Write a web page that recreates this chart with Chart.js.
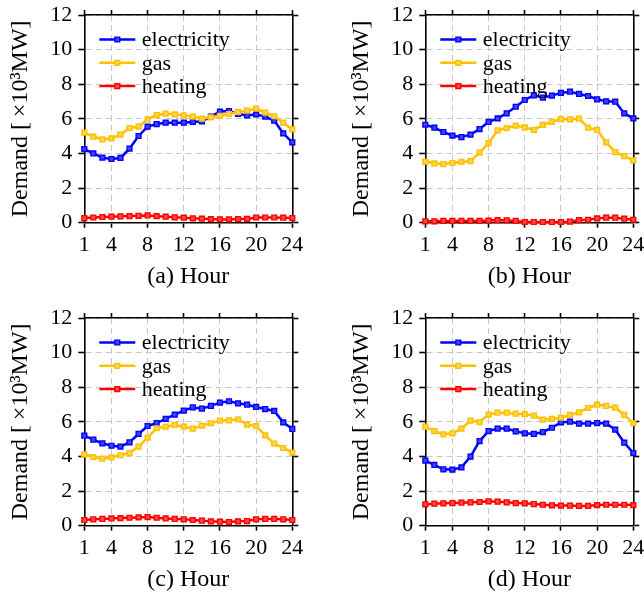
<!DOCTYPE html>
<html>
<head>
<meta charset="utf-8">
<script src="https://cdn.jsdelivr.net/npm/chart.js@4/dist/chart.umd.min.js"></script>
<style>
  html, body { margin:0; padding:0; background:#ffffff; }
  body { width:644px; height:594px; position:relative; overflow:hidden; }
  .panel { position:absolute; width:303px; height:291px; }
</style>
</head>
<body>
<div class="panel" style="left:0px;top:0px;"><canvas id="cA" width="303" height="291"></canvas></div>
<div class="panel" style="left:341px;top:0px;"><canvas id="cB" width="303" height="291"></canvas></div>
<div class="panel" style="left:0px;top:303px;"><canvas id="cC" width="303" height="291"></canvas></div>
<div class="panel" style="left:341px;top:303px;"><canvas id="cD" width="303" height="291"></canvas></div>
<script>
// ---- data ----
const hours = [1,2,3,4,5,6,7,8,9,10,11,12,13,14,15,16,17,18,19,20,21,22,23,24];
const xTickValues = [1,4,8,12,16,20,24];
const seriesNames = ["electricity","gas","heating"];
const panelTitles = ["(a) Hour","(b) Hour","(c) Hour","(d) Hour"];
const yAxisTitle = "Demand [\u2009×10³MW]";

const elecA = [4.25,4.00,3.76,3.68,3.74,4.28,5.01,5.55,5.70,5.78,5.78,5.78,5.82,5.86,6.13,6.42,6.45,6.28,6.20,6.26,6.13,5.90,5.16,4.64];
const gasA  = [5.20,4.97,4.82,4.87,5.09,5.47,5.55,5.97,6.22,6.30,6.26,6.20,6.13,6.01,6.09,6.18,6.28,6.40,6.47,6.59,6.36,6.15,5.78,5.39];
const heatA = [0.27,0.30,0.33,0.35,0.37,0.38,0.40,0.42,0.38,0.35,0.31,0.29,0.25,0.23,0.21,0.19,0.19,0.21,0.22,0.30,0.30,0.30,0.29,0.27];

const elecB = [5.66,5.49,5.24,5.03,4.95,5.09,5.41,5.82,6.03,6.32,6.70,7.09,7.36,7.23,7.34,7.50,7.57,7.44,7.32,7.13,7.01,6.99,6.32,6.03];
const gasB  = [3.53,3.43,3.39,3.45,3.51,3.56,4.05,4.60,5.34,5.47,5.61,5.51,5.36,5.65,5.82,5.99,5.97,6.01,5.49,5.36,4.64,4.08,3.85,3.60];
const heatB = [0.08,0.08,0.10,0.10,0.10,0.10,0.10,0.12,0.15,0.13,0.10,0.04,0.04,0.04,0.04,0.04,0.06,0.15,0.17,0.25,0.29,0.29,0.23,0.17];

const elecC = [5.20,4.97,4.76,4.62,4.57,4.82,5.30,5.76,5.93,6.17,6.42,6.65,6.84,6.76,6.92,7.11,7.19,7.07,6.99,6.86,6.74,6.63,5.97,5.59];
const gasC  = [4.12,3.97,3.87,3.95,4.07,4.20,4.57,5.09,5.63,5.72,5.82,5.72,5.61,5.78,5.92,6.07,6.09,6.15,5.84,5.76,5.22,4.74,4.49,4.22];
const heatC = [0.33,0.37,0.39,0.42,0.44,0.46,0.48,0.50,0.46,0.42,0.39,0.37,0.33,0.29,0.25,0.23,0.21,0.25,0.27,0.37,0.39,0.39,0.37,0.33];

const elecD = [3.76,3.51,3.26,3.24,3.37,3.99,4.89,5.47,5.61,5.61,5.45,5.34,5.30,5.41,5.66,5.97,6.01,5.90,5.90,5.93,5.90,5.55,4.80,4.20];
const gasD  = [5.72,5.47,5.28,5.34,5.61,6.07,5.99,6.42,6.53,6.53,6.47,6.45,6.36,6.13,6.17,6.24,6.40,6.55,6.80,6.99,6.92,6.82,6.40,5.93];
const heatD = [1.23,1.27,1.29,1.31,1.33,1.35,1.37,1.41,1.39,1.35,1.31,1.29,1.25,1.21,1.18,1.16,1.16,1.14,1.14,1.19,1.21,1.21,1.21,1.19];

// ---- styling ----
const lineColors = ["#0000ff","#ffc000","#ff0000"];
const fillColors = ["#4040ff","#ffd64a","#ff4848"];
const FONT = '"Liberation Serif", "Times New Roman", serif';
const AXIS_W = 1.6;
const GRID_COLOR = "#c8c8c8";

const innerLegend = {
  id: 'innerLegend',
  afterDatasetsDraw(chart) {
    const {ctx, chartArea} = chart;
    chart.data.datasets.forEach((ds, i) => {
      const y = chartArea.top + 24.5 + i * 23.3;
      const x0 = chartArea.left + 15, x1 = chartArea.left + 51;
      ctx.save();
      ctx.strokeStyle = ds.borderColor;
      ctx.lineWidth = ds.borderWidth;
      ctx.beginPath(); ctx.moveTo(x0, y); ctx.lineTo(x1, y); ctx.stroke();
      ctx.fillStyle = ds.pointBackgroundColor;
      ctx.strokeStyle = ds.pointBorderColor;
      ctx.lineWidth = ds.pointBorderWidth;
      Chart.helpers.drawPoint(ctx, {pointStyle: 'rect', radius: ds.pointRadius, borderWidth: ds.pointBorderWidth, rotation: 0}, (x0 + x1) / 2, y);
      ctx.fillStyle = '#000';
      ctx.font = '22px ' + FONT;
      ctx.textBaseline = 'middle';
      ctx.textAlign = 'left';
      ctx.fillText(ds.label, chartArea.left + 57.5, y + 1);
      ctx.restore();
    });
  }
};

function setXTicks(scale) { scale.ticks = xTickValues.map(v => ({value: v})); }

function makeChart(id, title, seriesList) {
  const datasets = seriesList.map((vals, i) => ({
    label: seriesNames[i],
    data: hours.map((h, k) => ({x: h, y: vals[k]})),
    xAxisID: 'x', yAxisID: 'y',
    borderColor: lineColors[i],
    borderWidth: 2.5,
    pointStyle: 'rect',
    pointRadius: 3.4,
    pointBorderWidth: 1.4,
    pointBorderColor: lineColors[i],
    pointBackgroundColor: fillColors[i],
    tension: 0,
    clip: false,
    order: 3 - i
  }));
  return new Chart(document.getElementById(id), {
    type: 'line',
    data: {datasets},
    options: {
      responsive: false, animation: false, devicePixelRatio: 1,
      layout: {padding: {left: 0, right: 0, top: 9, bottom: 0}},
      plugins: {legend: {display: false}, tooltip: {enabled: false}},
      scales: {
        x: {
          type: 'linear', axis: 'x', position: 'bottom', min: 1, max: 24,
          afterBuildTicks: setXTicks,
          afterFit(s) { s.height = 68.3; s.paddingLeft = 0; s.paddingRight = 0; },
          grid: {color: GRID_COLOR, lineWidth: 1, drawTicks: true, tickLength: 5, tickColor: '#000', tickWidth: AXIS_W},
          border: {display: true, color: '#000', width: AXIS_W, dash: [6, 4]},
          ticks: {color: '#000', font: {family: FONT, size: 22}, padding: 4, maxRotation: 0, autoSkip: false},
          title: {display: true, text: title, color: '#000', font: {family: FONT, size: 24, lineHeight: 1.2}, padding: {top: 0, bottom: 0}}
        },
        x2: {
          type: 'linear', axis: 'x', position: 'top', min: 1, max: 24,
          afterBuildTicks: setXTicks,
          afterFit(s) { s.height = 6; s.paddingLeft = 0; s.paddingRight = 0; },
          grid: {drawOnChartArea: false, drawTicks: true, tickLength: 5, tickColor: '#000', tickWidth: AXIS_W},
          border: {display: true, color: '#000', width: AXIS_W},
          ticks: {display: false}
        },
        y: {
          type: 'linear', axis: 'y', position: 'left', min: 0, max: 12,
          afterFit(s) { s.width = 84.3; s.paddingTop = 0; s.paddingBottom = 0; },
          grid: {color: GRID_COLOR, lineWidth: 1, drawTicks: true, tickLength: 6, tickColor: '#000', tickWidth: AXIS_W},
          border: {display: true, color: '#000', width: AXIS_W, dash: [6, 4]},
          ticks: {stepSize: 2, color: '#000', font: {family: FONT, size: 22}, padding: 6},
          title: {display: true, text: yAxisTitle, color: '#000', font: {family: FONT, size: 24, lineHeight: 1.2}, padding: {top: 6.6, bottom: 0}}
        },
        y2: {
          type: 'linear', axis: 'y', position: 'right', min: 0, max: 12,
          afterFit(s) { s.width = 10.7; s.paddingTop = 0; s.paddingBottom = 0; },
          grid: {drawOnChartArea: false, drawTicks: true, tickLength: 6, tickColor: '#000', tickWidth: AXIS_W},
          border: {display: true, color: '#000', width: AXIS_W},
          ticks: {display: false, stepSize: 2}
        }
      }
    },
    plugins: [innerLegend]
  });
}

makeChart('cA', panelTitles[0], [elecA, gasA, heatA]);
makeChart('cB', panelTitles[1], [elecB, gasB, heatB]);
makeChart('cC', panelTitles[2], [elecC, gasC, heatC]);
makeChart('cD', panelTitles[3], [elecD, gasD, heatD]);
</script>
</body>
</html>
